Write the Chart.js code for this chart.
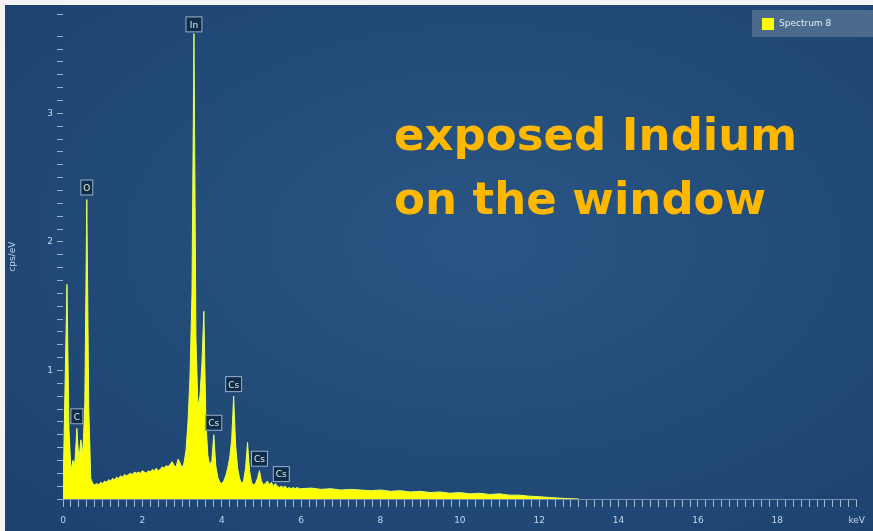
<!DOCTYPE html>
<html>
<head>
<meta charset="utf-8">
<script src="https://cdn.jsdelivr.net/npm/chart.js@4.4.1/dist/chart.umd.min.js"></script>
<style>
  html, body { margin: 0; padding: 0; background: #f4f4f4; width: 873px; height: 531px; overflow: hidden; }
  #wrap {
    position: absolute; left: 5px; top: 5px; width: 868px; height: 526px;
    background: radial-gradient(ellipse at 55% 45%, #2a5584 0%, #234c79 45%, #1c4170 100%);
  }
  #note {
    position: absolute; left: 394px; top: 103px;
    font-family: "DejaVu Sans", sans-serif; font-weight: bold; font-size: 45px;
    line-height: 64px; color: #ffb800; white-space: nowrap;
  }
</style>
</head>
<body>
<div id="wrap"><canvas id="spectrum"></canvas></div>
<div id="note">exposed Indium<br>on the window</div>
<script>
// energy (keV) and intensity (cps/eV)
const energies = [
  0.00, 0.05, 0.10, 0.15, 0.20, 0.25, 0.30, 0.35, 0.40, 0.45, 0.50, 0.55, 0.60, 0.65, 0.70, 0.75, 0.80, 0.85, 0.90, 0.95,
  1.00, 1.05, 1.10, 1.15, 1.20, 1.25, 1.30, 1.35, 1.40, 1.45, 1.50, 1.55, 1.60, 1.65, 1.70, 1.75, 1.80, 1.85, 1.90, 1.95,
  2.00, 2.05, 2.10, 2.15, 2.20, 2.25, 2.30, 2.35, 2.40, 2.45, 2.50, 2.55, 2.60, 2.65, 2.70, 2.75, 2.80, 2.85, 2.90, 2.95,
  3.00, 3.05, 3.10, 3.15, 3.20, 3.25, 3.30, 3.35, 3.40, 3.45, 3.50, 3.55, 3.60, 3.65, 3.70, 3.75, 3.80, 3.85, 3.90, 3.95,
  4.00, 4.05, 4.10, 4.15, 4.20, 4.25, 4.30, 4.35, 4.40, 4.45, 4.50, 4.55, 4.60, 4.65, 4.70, 4.75, 4.80, 4.85, 4.90, 4.95,
  5.00, 5.05, 5.10, 5.15, 5.20, 5.25, 5.30, 5.35, 5.40, 5.45, 5.50, 5.55, 5.60, 5.65, 5.70, 5.75, 5.80, 5.85, 5.90, 5.95,
  6.00, 6.25, 6.50, 6.75, 7.00, 7.25, 7.50, 7.75, 8.00, 8.25, 8.50, 8.75, 9.00, 9.25, 9.50, 9.75,
  10.00, 10.25, 10.50, 10.75, 11.00, 11.25, 11.50, 11.75, 12.00, 12.25, 12.50, 12.75, 13.00
];
const counts = [
  0.02, 0.85, 1.67, 0.55, 0.22, 0.30, 0.28, 0.55, 0.30, 0.46, 0.35, 0.75, 2.33, 0.70, 0.16, 0.12, 0.11, 0.12, 0.11, 0.13,
  0.12, 0.14, 0.13, 0.15, 0.14, 0.16, 0.15, 0.17, 0.16, 0.18, 0.17, 0.19, 0.18, 0.19, 0.20, 0.19, 0.21, 0.20, 0.21, 0.20,
  0.22, 0.21, 0.20, 0.22, 0.21, 0.23, 0.22, 0.24, 0.22, 0.23, 0.25, 0.24, 0.26, 0.25, 0.27, 0.29, 0.26, 0.25, 0.31, 0.28,
  0.24, 0.28, 0.38, 0.60, 0.95, 1.60, 3.62, 1.25, 0.72, 0.80, 1.05, 1.46, 0.60, 0.34, 0.26, 0.30, 0.50, 0.26, 0.17, 0.13,
  0.12, 0.14, 0.18, 0.24, 0.32, 0.46, 0.80, 0.42, 0.24, 0.16, 0.12, 0.14, 0.24, 0.44, 0.22, 0.13, 0.11, 0.12, 0.16, 0.22,
  0.14, 0.11, 0.12, 0.14, 0.11, 0.13, 0.10, 0.12, 0.10, 0.09, 0.10, 0.09, 0.10, 0.08, 0.09, 0.08, 0.09, 0.08, 0.09, 0.08,
  0.08, 0.085, 0.075, 0.08, 0.07, 0.075, 0.07, 0.065, 0.07, 0.06, 0.065, 0.055, 0.06, 0.05, 0.055, 0.045,
  0.05, 0.04, 0.045, 0.035, 0.04, 0.03, 0.03, 0.022, 0.018, 0.012, 0.007, 0.003, 0.0
];

// element markers
const peakNames = ['C', 'O', 'In', 'Cs', 'Cs', 'Cs', 'Cs'];
const peakEnergies = [0.35, 0.60, 3.30, 3.80, 4.30, 4.95, 5.50];
const peakHeights = [0.55, 2.33, 3.62, 0.50, 0.80, 0.22, 0.10];

const seriesName = 'Spectrum 8';

const labelColor = '#c4d6ea';

// draws the little element boxes above each peak
const peakLabels = {
  id: 'peakLabels',
  afterDatasetsDraw(chart) {
    const { ctx, scales: { x, y }, chartArea } = chart;
    ctx.save();
    ctx.font = '9px "DejaVu Sans"';
    ctx.textAlign = 'center';
    ctx.textBaseline = 'middle';
    peakNames.forEach((name, i) => {
      const px = x.getPixelForValue(peakEnergies[i]);
      const py = y.getPixelForValue(peakHeights[i]);
      const w = name.length > 1 ? 17 : 13;
      const h = 16;
      let top = Math.max(chartArea.top + 2, py - h - 4);
      ctx.fillStyle = '#0f2c4c';
      ctx.fillRect(px - w / 2, top, w, h);
      ctx.strokeStyle = '#9fb8d2';
      ctx.lineWidth = 1;
      ctx.strokeRect(px - w / 2 + 0.5, top + 0.5, w - 1, h - 1);
      ctx.fillStyle = '#e6f0d0';
      ctx.fillText(name, px, top + h / 2 + 1);
    });
    ctx.restore();
  }
};

// legend box in the top right corner
const legendBox = {
  id: 'legendBox',
  afterDraw(chart) {
    const { ctx } = chart;
    const label = chart.data.datasets[0].label;
    const left = 747, top = 5, w = 121, h = 27;
    ctx.save();
    ctx.fillStyle = '#4a6a8e';
    ctx.fillRect(left, top, w, h);
    ctx.fillStyle = '#ffff00';
    ctx.fillRect(left + 10, top + 8, 12, 12);
    ctx.fillStyle = '#e4ecf4';
    ctx.font = '9px "DejaVu Sans"';
    ctx.textBaseline = 'middle';
    ctx.fillText(label, left + 27, top + 14);
    ctx.restore();
  }
};

const ctx = document.getElementById('spectrum').getContext('2d');
new Chart(ctx, {
  type: 'line',
  data: {
    datasets: [{
      label: seriesName,
      data: energies.map((e, i) => ({ x: e, y: counts[i] })),
      borderColor: '#e4ff5a',
      borderWidth: 1,
      backgroundColor: '#ffff00',
      fill: 'origin',
      pointRadius: 0,
      tension: 0
    }]
  },
  options: {
    responsive: true,
    maintainAspectRatio: false,
    animation: false,
    layout: { padding: { top: 0, right: 8, bottom: 0, left: 0 } },
    plugins: {
      legend: { display: false },
      tooltip: { enabled: false }
    },
    scales: {
      x: {
        type: 'linear',
        min: 0,
        max: 20,
        afterFit(scale) { scale.height = 32; },
        border: { color: 'rgba(200,215,235,0.5)' },
        grid: { drawOnChartArea: false, tickLength: 8, color: 'rgba(210,225,240,0.75)' },
        ticks: {
          stepSize: 0.2,
          autoSkip: false,
          maxRotation: 0,
          padding: 8,
          color: labelColor,
          font: { size: 9, family: 'DejaVu Sans' },
          callback(v) {
            const r = Math.round(v * 10) / 10;
            if (r === 20) return 'keV';
            return (Math.abs(r % 2) < 1e-6) ? String(r) : '';
          }
        }
      },
      y: {
        min: 0,
        max: 3.77,
        afterFit(scale) { scale.width = 58; },
        border: { display: false },
        grid: { drawOnChartArea: false, tickLength: 6, color: 'rgba(210,225,240,0.7)' },
        title: {
          display: true,
          text: 'cps/eV',
          color: labelColor,
          font: { size: 9, family: 'DejaVu Sans' },
          padding: 2
        },
        ticks: {
          stepSize: 0.1,
          autoSkip: false,
          padding: 4,
          color: labelColor,
          font: { size: 9, family: 'DejaVu Sans' },
          callback(v) {
            const r = Math.round(v * 10) / 10;
            return (r > 0 && Math.abs(r - Math.round(r)) < 1e-6) ? String(r) : '';
          }
        }
      }
    }
  },
  plugins: [peakLabels, legendBox]
});
</script>
</body>
</html>
